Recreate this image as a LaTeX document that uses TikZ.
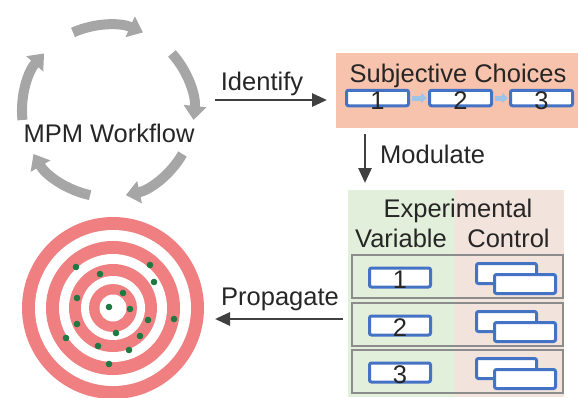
\documentclass[tikz,border=0pt]{standalone}
\usepackage{fontspec}
\setmainfont{Liberation Sans}
\usetikzlibrary{arrows.meta}
\definecolor{cycgray}{HTML}{A6A6A6}
\definecolor{darkln}{HTML}{404040}
\definecolor{txtc}{HTML}{262626}
\definecolor{subjfill}{HTML}{F8C3AC}
\definecolor{boxblue}{HTML}{4472C4}
\definecolor{lightblue}{HTML}{9DC3E6}
\definecolor{greenbg}{HTML}{E2EFDA}
\definecolor{pinkbg}{HTML}{F2E3DC}
\definecolor{rowgray}{HTML}{8C8C8C}
\definecolor{targetpink}{HTML}{F07F81}
\definecolor{dotgreen}{HTML}{1E7A42}
\tikzset{
  lbl/.style={inner sep=0pt, text=txtc, font=\fontsize{25.5}{30}\selectfont},
  cyc/.style={draw=cycgray, line width=10pt, -{Triangle[width=22pt,length=14pt]}},
  conn/.style={draw=darkln, line width=2.8pt, -{Triangle[width=13pt,length=15pt]}},
  smallarr/.style={draw=lightblue, line width=5pt, -{Triangle[width=10pt,length=6pt]}, shorten <=2pt, shorten >=1pt},
  bbox/.style={draw=boxblue, line width=3pt, fill=white, rounded corners=2pt, inner sep=0pt},
  subjbox/.style={fill=subjfill, inner sep=0pt},
  rowbox/.style={draw=rowgray, line width=1.1pt, inner sep=0pt, minimum width=211pt, minimum height=43pt},
  dot/.style={fill=dotgreen}
}
\begin{document}
\begin{tikzpicture}[x=1pt,y=-1pt]
\useasboundingbox (0,0) rectangle (578,397);

% --- workflow cycle ---
\coordinate (cc) at (108,111);
\foreach \k in {0,...,4}{
  \pgfmathsetmacro{\sa}{-(114-72*\k)}
  \pgfmathsetmacro{\ea}{-(66-72*\k)}
  \draw[cyc] (cc) ++(\sa:86) arc[start angle=\sa, end angle=\ea, radius=86];
}
\node[lbl, anchor=base] (mpm) at (109,142) {MPM Workflow};

% --- Identify ---
\node[lbl, anchor=base] (identify) at (262,90) {Identify};
\coordinate (idA) at (215,100);
\coordinate (idB) at (327,100);
\draw[conn] (idA) -- (idB);

% --- Subjective choices ---
\node[subjbox, minimum width=242pt, minimum height=75pt, anchor=north west] (subj) at (336,53) {};
\node[lbl, anchor=base] (subjt) at (458,82) {Subjective Choices};
\node[bbox, minimum width=62pt, minimum height=15.5pt] (s1) at (377.5,98) {};
\node[bbox, minimum width=62pt, minimum height=15.5pt] (s2) at (460.5,98) {};
\node[bbox, minimum width=62pt, minimum height=15.5pt] (s3) at (541.5,98) {};
\node[lbl, anchor=base] (s1t) at (377.5,109) {1};
\node[lbl, anchor=base] (s2t) at (460.5,109) {2};
\node[lbl, anchor=base] (s3t) at (541.5,109) {3};
\draw[smallarr] (s1.east) -- (s2.west);
\draw[smallarr] (s2.east) -- (s3.west);

% --- Modulate ---
\coordinate (moA) at (365,134);
\coordinate (moB) at (365,183);
\draw[conn] (moA) -- (moB);
\node[lbl, anchor=base west] (modulate) at (380,163) {Modulate};

% --- Table ---
\fill[greenbg] (348,190) rectangle (455,397);
\fill[pinkbg] (455,190) rectangle (564,397);
\node[lbl, anchor=base] (expt) at (458,217) {Experimental};
\node[lbl, anchor=base] (vart) at (401,247) {Variable};
\node[lbl, anchor=base] (ctrlt) at (508.5,247) {Control};

\foreach \i/\cy in {1/276.5, 2/324.5, 3/371.5}{
  \node[rowbox] (row\i) at (457.5,\cy) {};
  \node[bbox, minimum width=61pt, minimum height=19pt] (v\i) at (400,\cy+1) {};
  \node[lbl, anchor=base] (v\i t) at (400,\cy+11.5) {\i};
  \node[bbox, minimum width=60pt, minimum height=20pt] (cb\i) at (506.5,\cy-3) {};
  \node[bbox, minimum width=61pt, minimum height=19pt] (cf\i) at (525,\cy+7.5) {};
}

% --- Propagate ---
\coordinate (prA) at (343,319);
\coordinate (prB) at (215,319);
\draw[conn] (prA) -- (prB);
\node[lbl, anchor=base] (propagate) at (280,305) {Propagate};

% --- Target ---
\coordinate (tc) at (113,308);
\fill[targetpink] (tc) circle[radius=91];
\fill[white] (tc) circle[radius=78];
\fill[targetpink] (tc) circle[radius=67];
\fill[white] (tc) circle[radius=54];
\fill[targetpink] (tc) circle[radius=44];
\fill[white] (tc) circle[radius=32];
\fill[targetpink] (tc) circle[radius=24];
\fill[white] (tc) circle[radius=13.5];
\foreach \p in {(76,267),(150,265),(100,274),(154,282),(77,298),(123,293),(109,307),(130,309),(77,324),(148,320),(174,319),(116,333),(140,336),(66,338),(98,346),(129,350),(109,364)}{
  \fill[dot] \p circle[radius=3.3];
}
\end{tikzpicture}
\end{document}
